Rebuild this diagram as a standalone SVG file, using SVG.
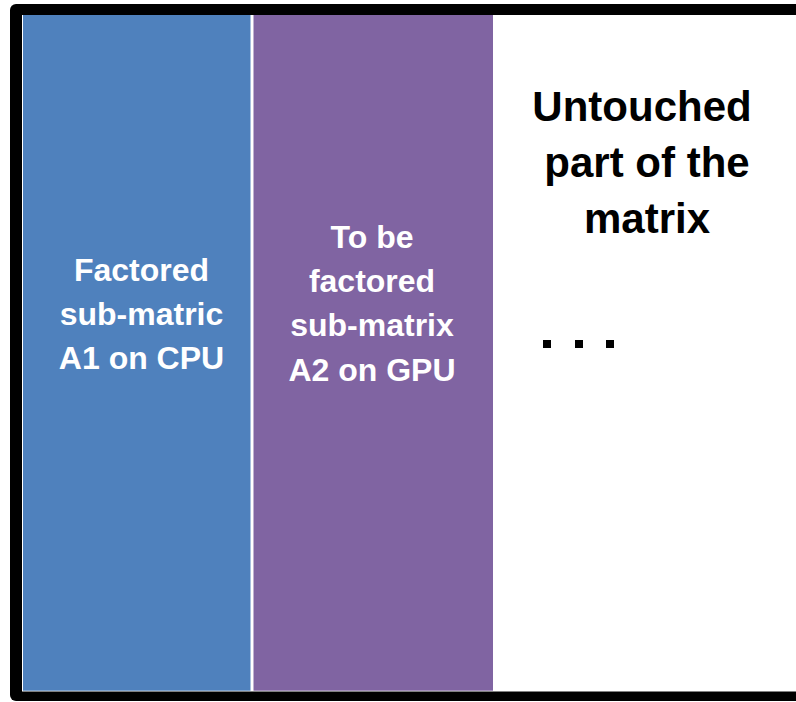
<svg xmlns="http://www.w3.org/2000/svg" width="796" height="702" viewBox="0 0 796 702">
  <style>
    .lbl { font-family: "Liberation Sans", Arial, sans-serif; font-weight: bold; text-anchor: middle; }
    .w { fill: #FFFFFF; font-size: 32px; }
    .k { fill: #000000; font-size: 42px; }
  </style>
  <rect width="796" height="702" fill="#FFFFFF"/>
  <g id="frame">
    <rect x="10" y="4" width="800" height="697" rx="6" fill="#000000"/>
    <rect x="22" y="15" width="790" height="676.5" fill="#FFFFFF"/>
  </g>
  <g id="a1">
    <rect x="23" y="15" width="227.5" height="675.7" fill="#4F81BD"/>
    <text class="lbl w" x="141.5" y="281">Factored</text>
    <text class="lbl w" x="141.5" y="325">sub-matric</text>
    <text class="lbl w" x="141.5" y="369">A1 on CPU</text>
  </g>
  <g id="a2">
    <rect x="253.5" y="15" width="239.5" height="675.7" fill="#8064A2"/>
    <text class="lbl w" x="372" y="248">To be</text>
    <text class="lbl w" x="372" y="292">factored</text>
    <text class="lbl w" x="372" y="336">sub-matrix</text>
    <text class="lbl w" x="372" y="381">A2 on GPU</text>
  </g>
  <g id="untouched">
    <text class="lbl k" x="642" y="121">Untouched</text>
    <text class="lbl k" x="647" y="177">part of the</text>
    <text class="lbl k" x="647" y="233">matrix</text>
    <rect x="543" y="340" width="8" height="8" fill="#000000"/>
    <rect x="575" y="340" width="8" height="8" fill="#000000"/>
    <rect x="606" y="340" width="8" height="8" fill="#000000"/>
  </g>
  <g id="connectors"/>
</svg>
